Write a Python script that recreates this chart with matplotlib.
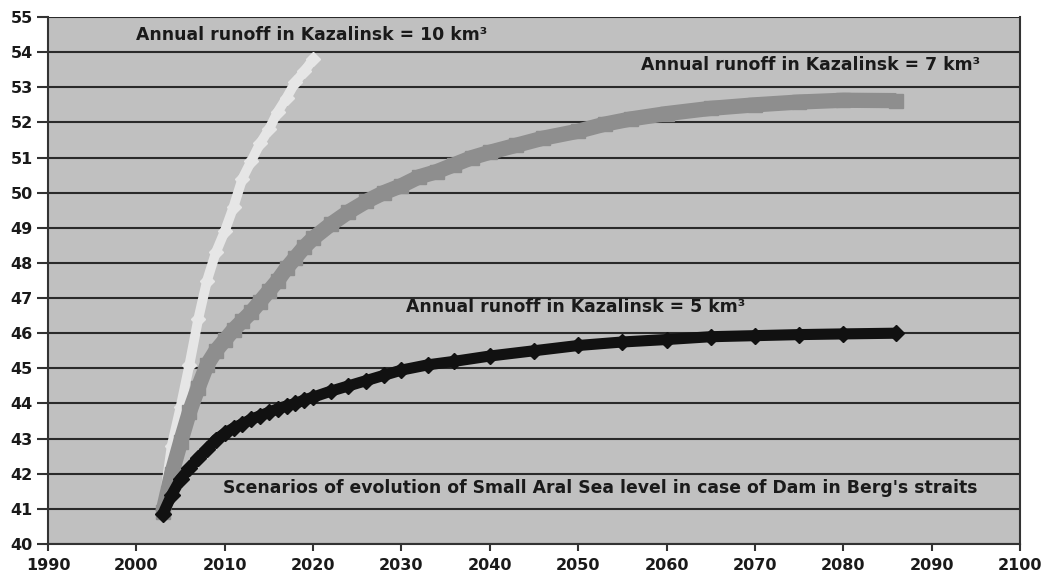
import matplotlib.pyplot as plt
import numpy as np

plt.rcParams['font.family'] = ['DejaVu Sans']

# Annual runoff in Kazalinsk = 10 km3
years_10 = [2003, 2004, 2005, 2006, 2007, 2008, 2009, 2010, 2011, 2012,
            2013, 2014, 2015, 2016, 2017, 2018, 2019, 2020]
level_10 = [41.0, 42.8, 43.9, 45.1, 46.4, 47.5, 48.3, 48.9, 49.6, 50.4,
            50.9, 51.4, 51.8, 52.3, 52.7, 53.15, 53.45, 53.8]

# Annual runoff in Kazalinsk = 7 km3
years_7 = [2003, 2004, 2005, 2006, 2007, 2008, 2009, 2010, 2011, 2012,
           2013, 2014, 2015, 2016, 2017, 2018, 2019, 2020, 2022, 2024,
           2026, 2028, 2030, 2032, 2034, 2036, 2038, 2040, 2043, 2046,
           2050, 2053, 2056, 2060, 2065, 2070, 2075, 2080, 2086]
level_7 = [40.9, 42.0, 42.9, 43.75, 44.45, 45.1, 45.5, 45.8, 46.1, 46.35,
           46.6, 46.9, 47.2, 47.5, 47.85, 48.15, 48.45, 48.7, 49.1, 49.45,
           49.75, 50.0, 50.2, 50.45, 50.6, 50.8, 51.0, 51.15, 51.35, 51.55,
           51.75, 51.95, 52.1, 52.25, 52.4, 52.5, 52.58, 52.63, 52.62]

# Annual runoff in Kazalinsk = 5 km3
years_5 = [2003, 2004, 2005, 2006, 2007, 2008, 2009, 2010, 2011, 2012,
           2013, 2014, 2015, 2016, 2017, 2018, 2019, 2020, 2022, 2024,
           2026, 2028, 2030, 2033, 2036, 2040, 2045, 2050, 2055, 2060,
           2065, 2070, 2075, 2080, 2086]
level_5 = [40.85, 41.4, 41.85, 42.15, 42.45, 42.7, 42.97, 43.15, 43.3, 43.42,
           43.55, 43.65, 43.75, 43.85, 43.93, 44.0, 44.1, 44.18, 44.35, 44.5,
           44.65, 44.8, 44.95, 45.1, 45.2, 45.35, 45.5, 45.65, 45.75, 45.82,
           45.9, 45.93, 45.96, 45.98, 46.0]

fig = plt.figure(figsize=(10.42, 5.81), dpi=100)
ax = fig.add_axes([48 / 1042, 37 / 581, 972 / 1042, 527 / 581])
ax.set_facecolor('#c0c0c0')

ax.plot(years_10, level_10, color='#e6e6e6', lw=7, marker='D', ms=7,
        solid_capstyle='round', zorder=3)
ax.plot(years_7, level_7, color='#8e8e8e', lw=11, marker='s', ms=10,
        solid_capstyle='butt', zorder=4)
ax.plot(years_5, level_5, color='#111111', lw=8, marker='D', ms=8,
        solid_capstyle='round', zorder=5)

ax.set_xlim(1990, 2100)
ax.set_ylim(40, 55)
ax.set_xticks(np.arange(1990, 2101, 10))
ax.set_yticks(np.arange(40, 56, 1))
ax.yaxis.grid(True, color='#2a2a2a', lw=1.5)
ax.set_axisbelow(True)

for lab in ax.get_xticklabels() + ax.get_yticklabels():
    lab.set_fontweight('bold')
    lab.set_fontsize(11.5)
    lab.set_color('#1a1a1a')
ax.tick_params(axis='x', direction='out', length=5, width=1.5, color='#333333', pad=5)
ax.tick_params(axis='y', direction='out', length=8, width=1.5, color='#333333', pad=3)

for side in ['left', 'bottom', 'right']:
    ax.spines[side].set_color('#333333')
    ax.spines[side].set_linewidth(1.5)
ax.spines['top'].set_visible(False)

txt = dict(fontsize=12.4, fontweight='bold', color='#1a1a1a', va='center', ha='left', zorder=6)
ax.text(2000.0, 54.5, 'Annual runoff in Kazalinsk = 10 km³', **txt)
ax.text(2057.1, 53.63, 'Annual runoff in Kazalinsk = 7 km³', **txt)
ax.text(2030.5, 46.75, 'Annual runoff in Kazalinsk = 5 km³', **txt)
ax.text(2009.8, 41.6, "Scenarios of evolution of Small Aral Sea level in case of Dam in Berg's straits", **txt)

fig.savefig('out.png', dpi=100)
